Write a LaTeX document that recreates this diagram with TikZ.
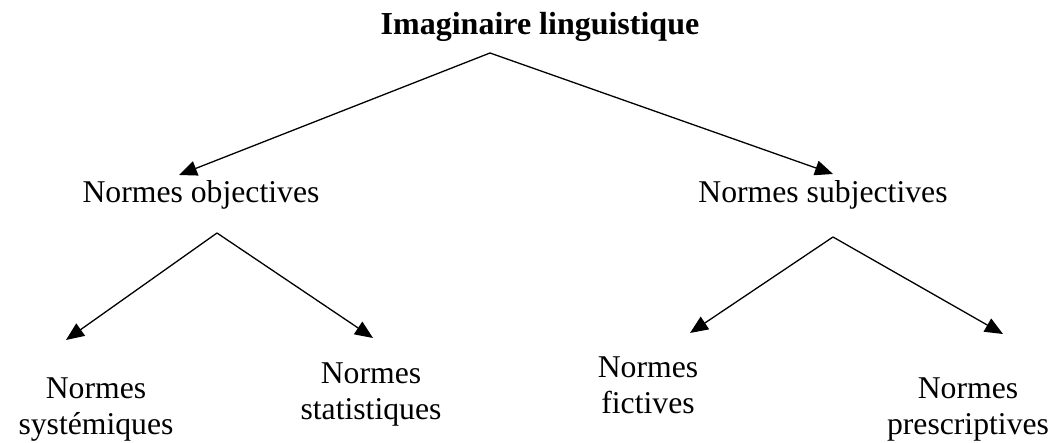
\documentclass[tikz,border=0pt]{standalone}
\usepackage{fontspec}
\setmainfont{Liberation Serif}
\usetikzlibrary{arrows.meta}
\begin{document}
\begin{tikzpicture}[x=1pt,y=-1pt,
  lbl/.style={inner sep=0pt,font=\fontsize{31.7}{36}\selectfont,align=center},
  ttl/.style={inner sep=0pt,font=\fontsize{32}{36}\selectfont\bfseries},
  arr/.style={line width=1.3pt,-{Triangle[length=18pt,width=15pt]}}]
\useasboundingbox (0,0) rectangle (1058,443);
\node[ttl,anchor=base] (title) at (540,35) {Imaginaire linguistique};
\node[lbl,anchor=base] (obj) at (201,203) {Normes objectives};
\node[lbl,anchor=base] (subj) at (823,203) {Normes subjectives};
\node[lbl,anchor=base] (sys) at (96,435) {Normes\\systémiques};
\node[lbl,anchor=base] (stat) at (371,420) {Normes\\statistiques};
\node[lbl,anchor=base] (fict) at (648,414) {Normes\\fictives};
\node[lbl,anchor=base] (pres) at (968,435) {Normes\\prescriptives};
\coordinate (a0) at (490,53);
\coordinate (t1) at (179,175);
\coordinate (t2) at (833,174);
\coordinate (a1) at (217,233);
\coordinate (t11) at (66,340);
\coordinate (t12) at (373,338);
\coordinate (a2) at (833,237);
\coordinate (t21) at (690,333);
\coordinate (t22) at (1003,334);
\draw[arr] (a0) -- (t1);
\draw[arr] (a0) -- (t2);
\draw[arr] (a1) -- (t11);
\draw[arr] (a1) -- (t12);
\draw[arr] (a2) -- (t21);
\draw[arr] (a2) -- (t22);
\end{tikzpicture}
\end{document}
